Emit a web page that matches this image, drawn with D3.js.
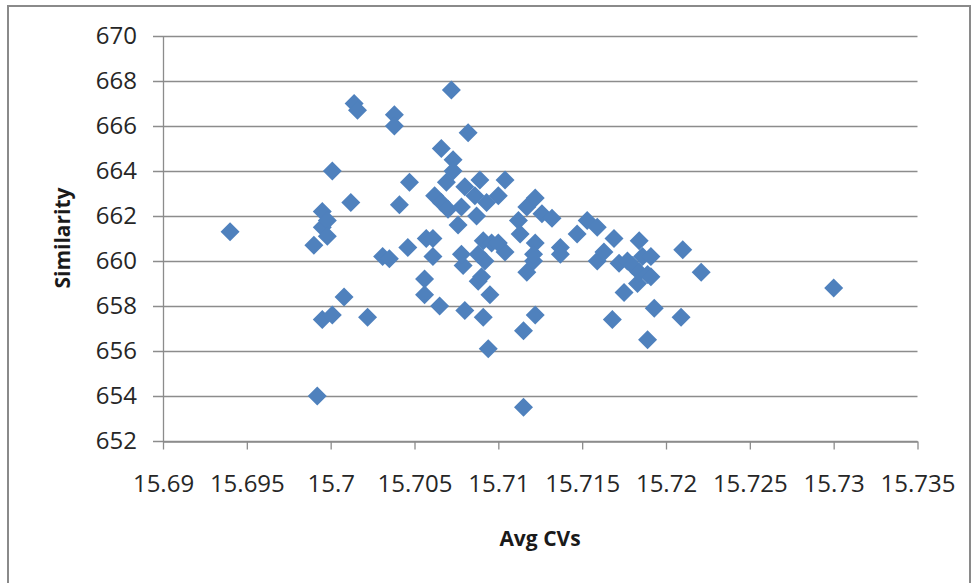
<!DOCTYPE html>
<html>
<head>
<meta charset="utf-8">
<script src="https://cdn.jsdelivr.net/npm/d3@7"></script>
<style>
  html, body { margin: 0; padding: 0; background: #fff; }
  svg { display: block; }
  text { font-family: "Open Sans", "Noto Sans", sans-serif; }
</style>
</head>
<body>
<svg id="chart" width="976" height="583"></svg>
<script>
// Average CVs per run (x) and the similarity score (y)
const avgCVs = [
  15.6940, 15.6990, 15.6995, 15.6995, 15.6998, 15.6998, 15.7001, 15.6995, 15.7001, 15.6992,
  15.7008, 15.7012, 15.7014, 15.7016, 15.7022, 15.7031, 15.7035, 15.7038, 15.7038, 15.7041,
  15.7047, 15.7046, 15.7056, 15.7056, 15.7057, 15.7061, 15.7061, 15.7062, 15.7066, 15.7070,
  15.7065, 15.7069, 15.7066, 15.7073, 15.7073, 15.7072, 15.7082, 15.7078, 15.7076, 15.7080,
  15.7079, 15.7080, 15.7078, 15.7086, 15.7087, 15.7089, 15.7093, 15.7100, 15.7104, 15.7088,
  15.7090, 15.7091, 15.7094, 15.7095, 15.7091, 15.7096, 15.7092, 15.7088, 15.7104, 15.7100,
  15.7112, 15.7113, 15.7115, 15.7117, 15.7115, 15.7117, 15.7122, 15.7121, 15.7122, 15.7122,
  15.7121, 15.7126, 15.7132, 15.7137, 15.7137, 15.7147, 15.7153, 15.7159, 15.7159, 15.7163,
  15.7169, 15.7168, 15.7172, 15.7175, 15.7177, 15.7180, 15.7184, 15.7183, 15.7184, 15.7186,
  15.7189, 15.7191, 15.7191, 15.7193, 15.7189, 15.7210, 15.7209, 15.7221, 15.7300
];
const similarity = [
  661.3, 660.7, 662.2, 661.5, 661.8, 661.1, 664.0, 657.4, 657.6, 654.0,
  658.4, 662.6, 667.0, 666.7, 657.5, 660.2, 660.1, 666.5, 666.0, 662.5,
  663.5, 660.6, 659.2, 658.5, 661.0, 661.0, 660.2, 662.9, 662.6, 662.3,
  658.0, 663.5, 665.0, 664.5, 664.0, 667.6, 665.7, 662.4, 661.6, 663.3,
  659.8, 657.8, 660.3, 662.9, 662.0, 663.6, 662.6, 662.9, 663.6, 659.1,
  659.3, 657.5, 656.1, 658.5, 660.9, 660.8, 660.0, 660.3, 660.4, 660.8,
  661.8, 661.2, 656.9, 659.5, 653.5, 662.4, 662.8, 660.0, 660.8, 657.6,
  660.3, 662.1, 661.9, 660.6, 660.3, 661.2, 661.8, 661.5, 660.0, 660.4,
  661.0, 657.4, 659.9, 658.6, 660.0, 659.8, 660.9, 659.0, 659.5, 660.2,
  659.4, 660.2, 659.3, 657.9, 656.5, 660.5, 657.5, 659.5, 658.8
];
const xTicks = [15.69, 15.695, 15.7, 15.705, 15.71, 15.715, 15.72, 15.725, 15.73, 15.735];
const yTicks = [652, 654, 656, 658, 660, 662, 664, 666, 668, 670];

const svg = d3.select("#chart");
const gridColor = "#8c8c8c";
const markColor = "#4f81bd";

// outer chart frame
svg.append("rect")
  .attr("x", 8).attr("y", 6)
  .attr("width", 962).attr("height", 580)
  .attr("fill", "#fff")
  .attr("stroke", "#8a8a8a")
  .attr("stroke-width", 2);

const plot = { left: 163, right: 917.5, top: 36, bottom: 441 };

const x = d3.scaleLinear().domain([15.69, 15.735]).range([plot.left, plot.right]);
const y = d3.scaleLinear().domain([652, 670]).range([plot.bottom, plot.top]);

// horizontal gridlines
svg.append("g")
  .selectAll("line")
  .data(yTicks)
  .join("line")
  .attr("x1", plot.left - 10).attr("x2", plot.right)
  .attr("y1", d => Math.round(y(d)) + 0.5).attr("y2", d => Math.round(y(d)) + 0.5)
  .attr("stroke", gridColor).attr("stroke-width", 1.3);

// vertical axis line
svg.append("line")
  .attr("x1", plot.left + 0.5).attr("x2", plot.left + 0.5)
  .attr("y1", plot.top).attr("y2", plot.bottom)
  .attr("stroke", gridColor).attr("stroke-width", 1.3);

// x axis with outward ticks
const xAxis = d3.axisBottom(x)
  .tickValues(xTicks)
  .tickSize(8)
  .tickSizeOuter(0)
  .tickPadding(25)
  .tickFormat(d => d3.format("")(+d.toFixed(3)));

const gx = svg.append("g")
  .attr("transform", `translate(0,${Math.round(plot.bottom) + 0.5})`)
  .call(xAxis);
gx.select(".domain").attr("stroke", gridColor).attr("stroke-width", 1.3);
gx.selectAll(".tick line").attr("stroke", gridColor).attr("stroke-width", 1.3);
gx.selectAll(".tick text")
  .attr("fill", "#262626")
  .style("font-size", "24px")
  .style("font-family", "'Open Sans', sans-serif");

// y axis labels
const yAxis = d3.axisLeft(y)
  .tickValues(yTicks)
  .tickSize(0)
  .tickPadding(26);
const gy = svg.append("g")
  .attr("transform", `translate(${plot.left},0)`)
  .call(yAxis);
gy.select(".domain").remove();
gy.selectAll(".tick text")
  .attr("fill", "#262626")
  .style("font-size", "24px")
  .style("font-family", "'Open Sans', sans-serif");

// axis titles
svg.append("text")
  .attr("x", 540).attr("y", 546)
  .attr("text-anchor", "middle")
  .attr("font-weight", "bold")
  .attr("font-size", 21)
  .attr("fill", "#1a1a1a")
  .text("Avg CVs");

svg.append("text")
  .attr("transform", "translate(70,238) rotate(-90)")
  .attr("text-anchor", "middle")
  .attr("font-weight", "bold")
  .attr("font-size", 21)
  .attr("fill", "#1a1a1a")
  .text("Similarity");

// diamond markers
const points = avgCVs.map((v, i) => ({ cv: v, sim: similarity[i] }));
const r = 9.5;
svg.append("g")
  .selectAll("path")
  .data(points)
  .join("path")
  .attr("transform", d => `translate(${x(d.cv)},${y(d.sim)})`)
  .attr("d", `M0,${-r}L${r},0L0,${r}L${-r},0Z`)
  .attr("fill", markColor);
</script>
</body>
</html>
